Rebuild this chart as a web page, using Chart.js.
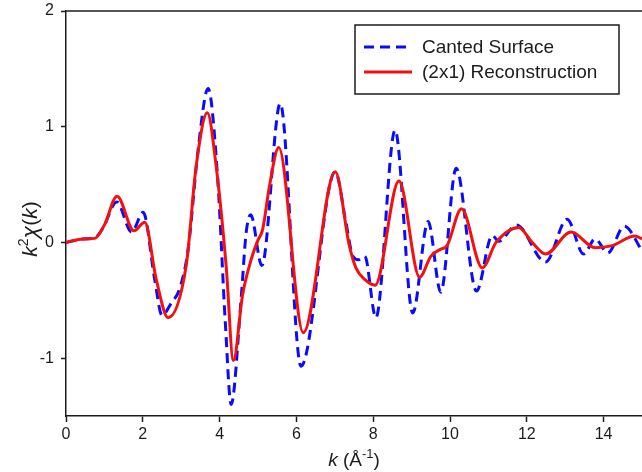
<!DOCTYPE html>
<html>
<head>
<meta charset="utf-8">
<script src="https://cdn.jsdelivr.net/npm/chart.js@4.4.1/dist/chart.umd.min.js"></script>
<style>
  body { margin: 0; background: #fff; }
  canvas { display: block; }
</style>
</head>
<body>
<canvas id="exafsChart" width="642" height="472"></canvas>
<script>
// k (1/A) and k^2 chi(k) for the canted surface (dashed) and the (2x1) reconstruction (solid)
var kCanted = [0, 0.45, 0.75, 0.97, 1.32, 1.71, 2.01, 2.31, 2.50, 2.75, 2.96, 3.18, 3.44, 3.70, 3.95, 4.15, 4.30, 4.56, 4.69, 4.81, 5.10, 5.58, 6.12, 7.01, 7.29, 7.47, 7.62, 7.78, 8.07, 8.57, 9.03, 9.43, 9.76, 10.16, 10.69, 11.10, 11.27, 11.73, 12.49, 13.05, 13.48, 13.78, 14.11, 14.54, 15.0];
var chiCanted = [0, 0.03, 0.04, 0.13, 0.35, 0.09, 0.26, -0.32, -0.63, -0.52, -0.40, -0.06, 0.80, 1.33, 0.55, -0.70, -1.40, -0.49, 0.08, 0.24, -0.20, 1.20, -1.07, 0.61, 0.17, -0.12, -0.15, -0.12, -0.65, 0.97, -0.61, 0.18, -0.43, 0.64, -0.42, 0.06, 0.01, 0.15, -0.17, 0.20, -0.10, 0.03, -0.09, 0.14, -0.07];

var kRecon = [0, 0.45, 0.75, 1.0, 1.33, 1.77, 2.05, 2.35, 2.66, 3.13, 3.39, 3.68, 3.91, 4.17, 4.36, 4.60, 4.82, 5.00, 5.12, 5.30, 5.54, 6.18, 7.01, 7.38, 7.55, 7.78, 8.05, 8.67, 9.21, 9.50, 9.75, 9.92, 10.30, 10.84, 11.20, 11.79, 12.14, 12.49, 13.15, 13.78, 14.20, 14.82, 15.0];
var chiRecon = [0, 0.03, 0.035, 0.15, 0.40, 0.10, 0.175, -0.32, -0.65, -0.20, 0.66, 1.12, 0.66, -0.20, -1.02, -0.45, -0.15, 0.02, 0.11, 0.49, 0.82, -0.78, 0.61, -0.03, -0.22, -0.32, -0.37, 0.53, -0.30, -0.12, -0.06, -0.03, 0.29, -0.22, 0.00, 0.13, 0.00, -0.10, 0.09, -0.045, -0.03, 0.055, 0.03];

var seriesNames = ['Canted Surface', '(2x1) Reconstruction'];
var xTicks = [0, 2, 4, 6, 8, 10, 12, 14];
var yTicks = [-1, 0, 1, 2];

var FONT = 'Liberation Sans, Arial, Helvetica, sans-serif';
var INK = '#1c1c1c';

function toPoints(xs, ys) {
    return xs.map(function (x, i) { return { x: x, y: ys[i] }; });
}

// draws a run of text pieces (mixed fonts, raised superscripts) centred on x
function drawRich(ctx, parts, x, y) {
    var total = 0;
    parts.forEach(function (p) { ctx.font = p.font; total += ctx.measureText(p.t).width; });
    var cx = x - total / 2;
    parts.forEach(function (p) {
        ctx.font = p.font;
        ctx.fillText(p.t, cx, y + (p.dy || 0));
        cx += ctx.measureText(p.t).width;
    });
}

var framePlugin = {
    id: 'frame',
    afterDraw: function (chart) {
        var ctx = chart.ctx, a = chart.chartArea;
        ctx.save();
        // top frame line
        ctx.strokeStyle = INK;
        ctx.lineWidth = 1.5;
        ctx.beginPath();
        ctx.moveTo(a.left, a.top);
        ctx.lineTo(a.right, a.top);
        ctx.stroke();

        // legend box
        var bx = 355, by = 25, bw = 264, bh = 69;
        ctx.fillStyle = '#fff';
        ctx.fillRect(bx, by, bw, bh);
        ctx.strokeRect(bx, by, bw, bh);
        chart.data.datasets.forEach(function (ds, i) {
            var ly = by + 22 + i * 25;
            ctx.strokeStyle = ds.borderColor;
            ctx.lineWidth = ds.borderWidth;
            ctx.setLineDash(ds.borderDash || []);
            ctx.beginPath();
            ctx.moveTo(bx + 9, ly);
            ctx.lineTo(bx + 57, ly);
            ctx.stroke();
            ctx.setLineDash([]);
            ctx.fillStyle = INK;
            ctx.font = '19px ' + FONT;
            ctx.textBaseline = 'middle';
            ctx.fillText(ds.label, bx + 67, ly + 1);
        });

        // axis titles
        ctx.fillStyle = INK;
        ctx.textBaseline = 'alphabetic';
        var xMid = (a.left + a.right) / 2;
        drawRich(ctx, [
            { t: 'k', font: 'italic 19px ' + FONT },
            { t: ' (Å', font: '19px ' + FONT },
            { t: '-1', font: '13px ' + FONT, dy: -8 },
            { t: ')', font: '19px ' + FONT }
        ], xMid, 466);

        ctx.translate(37, 229);
        ctx.rotate(-Math.PI / 2);
        drawRich(ctx, [
            { t: 'k', font: 'italic 21px ' + FONT },
            { t: '2', font: '14px ' + FONT, dy: -9 },
            { t: 'χ', font: 'italic 23px ' + FONT },
            { t: '(', font: '21px ' + FONT },
            { t: 'k', font: 'italic 21px ' + FONT },
            { t: ')', font: '21px ' + FONT }
        ], 0, 0);
        ctx.restore();
    }
};

var ctx = document.getElementById('exafsChart').getContext('2d');
var chart = new Chart(ctx, {
    type: 'line',
    data: {
        datasets: [{
            label: seriesNames[0],
            data: toPoints(kCanted, chiCanted),
            borderColor: '#0a0aff',
            borderWidth: 3,
            borderDash: [10, 6],
            pointRadius: 0,
            cubicInterpolationMode: 'monotone',
            order: 1
        }, {
            label: seriesNames[1],
            data: toPoints(kRecon, chiRecon),
            borderColor: '#f51010',
            borderWidth: 3,
            pointRadius: 0,
            cubicInterpolationMode: 'monotone',
            order: 0
        }]
    },
    options: {
        responsive: false,
        animation: false,
        layout: { padding: { top: 11, right: 0, left: 0, bottom: 0 } },
        plugins: { legend: { display: false }, tooltip: { enabled: false } },
        scales: {
            x: {
                type: 'linear',
                min: 0,
                max: 15,
                afterBuildTicks: function (scale) {
                    scale.ticks = xTicks.map(function (v) { return { value: v }; });
                },
                afterFit: function (scale) {
                    scale.height = 56;
                    scale.paddingLeft = 0;
                    scale.paddingRight = 0;
                },
                ticks: { color: INK, font: { family: FONT, size: 16 }, padding: 3, maxRotation: 0 },
                grid: { drawOnChartArea: false, color: INK, tickLength: 6, tickWidth: 1.5 },
                border: { color: INK, width: 1.5 }
            },
            y: {
                min: -1.5,
                max: 2,
                afterBuildTicks: function (scale) {
                    scale.ticks = yTicks.map(function (v) { return { value: v }; });
                },
                afterFit: function (scale) {
                    scale.width = 66;
                    scale.paddingTop = 0;
                    scale.paddingBottom = 0;
                },
                ticks: { color: INK, font: { family: FONT, size: 16 }, padding: 7 },
                grid: { drawOnChartArea: false, color: INK, tickLength: 5, tickWidth: 1.5 },
                border: { color: INK, width: 1.5 }
            }
        }
    },
    plugins: [framePlugin]
});
</script>
</body>
</html>
